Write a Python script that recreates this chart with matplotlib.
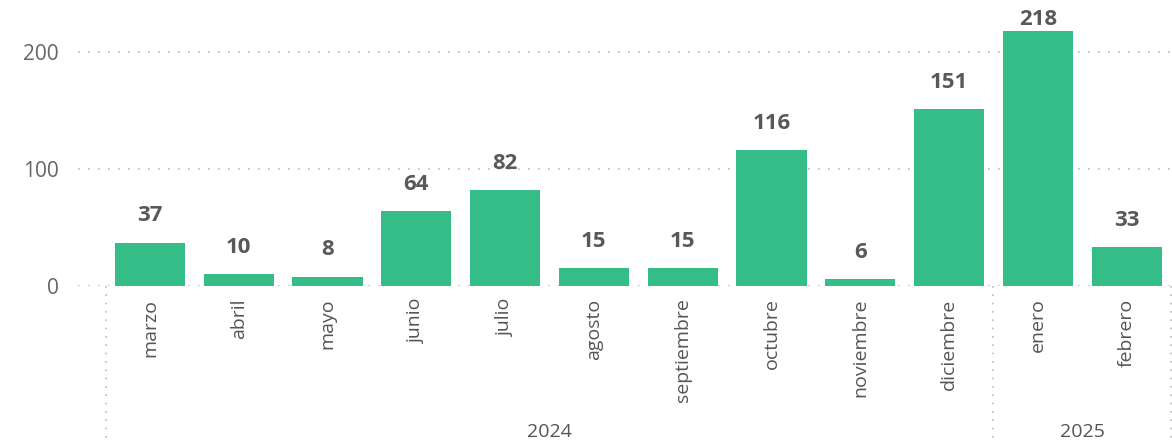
import numpy as np
import matplotlib.pyplot as plt

months = ['marzo', 'abril', 'mayo', 'junio', 'julio', 'agosto', 'septiembre',
          'octubre', 'noviembre', 'diciembre', 'enero', 'febrero']
values = [37, 10, 8, 64, 82, 15, 15, 116, 6, 151, 218, 33]
years = ['2024', '2025']
year_counts = [10, 2]

plt.rcParams['font.family'] = ['Open Sans', 'DejaVu Sans']

fig = plt.figure(figsize=(11.72, 4.44), dpi=100)
ax = fig.add_axes([78 / 1172, 158 / 444, (1171 - 78) / 1172, 280.8 / 444])

x = np.arange(len(months))
ax.bar(x, values, width=0.79, color='#35BD87', zorder=3)

ymax = 240
# labels sit above the bar, pushed down inside the plot if there's no room
for xi, v in zip(x, values):
    ly = min(v + 23, ymax - 12.6)
    ax.text(xi, ly, str(v), ha='center', va='center', fontsize=16,
            fontweight='bold', color='#595959', zorder=4)

ax.set_xlim(-0.81, 11.5)
ax.set_ylim(0, ymax)
ax.set_yticks([0, 100, 200])
ax.yaxis.grid(True, linestyle=(0, (1, 5)), color='#bbbbbb', linewidth=1.2)
ax.set_axisbelow(True)
for s in ax.spines.values():
    s.set_visible(False)

ax.set_xticks(x)
ax.set_xticklabels(months, rotation=90, fontsize=14, color='#555555')
ax.tick_params(axis='x', length=0, pad=9)
ax.tick_params(axis='y', length=0, pad=14, labelsize=15, labelcolor='#666666')

# year groups
trans = ax.get_xaxis_transform()
bounds = np.concatenate([[0], np.cumsum(year_counts)]) - 0.5
for b in bounds:
    ax.plot([b, b], [0, -0.57], transform=trans, clip_on=False,
            linestyle=(0, (1, 4)), color='#bbbbbb', linewidth=1.2)
for yr, lo, hi in zip(years, bounds[:-1], bounds[1:]):
    ax.text((lo + hi) / 2, -0.52, yr, transform=trans, ha='center', va='center',
            fontsize=14, color='#555555')

fig.savefig('out.png', dpi=100)
